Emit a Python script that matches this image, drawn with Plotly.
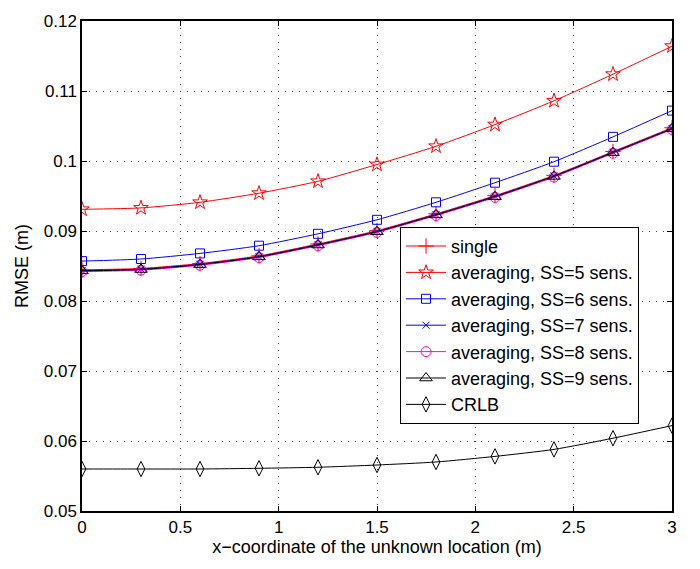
import plotly.graph_objects as go

x_vals = [0.0, 0.3, 0.6, 0.9, 1.2, 1.5, 1.8, 2.1, 2.4, 2.7, 3.0]

single = [0.08445, 0.08465, 0.08535, 0.08645, 0.08815, 0.09005, 0.09245, 0.09505, 0.09795, 0.10135, 0.10475]
ss5 = [0.0931, 0.0933, 0.0941, 0.0954, 0.0971, 0.0995, 0.1021, 0.1052, 0.1086, 0.1124, 0.1164]
ss6 = [0.0857, 0.0860, 0.0868, 0.0879, 0.0896, 0.0916, 0.0941, 0.0969, 0.0999, 0.10345, 0.1072]
ss7 = [0.08435, 0.08455, 0.08525, 0.08635, 0.08805, 0.08995, 0.09235, 0.09495, 0.09785, 0.10125, 0.10465]
ss8 = [0.0842, 0.0844, 0.0851, 0.0862, 0.0879, 0.0898, 0.0922, 0.0948, 0.0977, 0.1011, 0.1045]
ss9 = [0.0843, 0.0845, 0.0852, 0.0863, 0.0880, 0.0899, 0.0923, 0.0949, 0.0978, 0.1012, 0.1046]
crlb = [0.0560, 0.0560, 0.0560, 0.0561, 0.05625, 0.05657, 0.0570, 0.0578, 0.0588, 0.0604, 0.0622]

names = ["single", "averaging, SS=5 sens.", "averaging, SS=6 sens.", "averaging, SS=7 sens.",
         "averaging, SS=8 sens.", "averaging, SS=9 sens.", "CRLB"]
series = [single, ss5, ss6, ss7, ss8, ss9, crlb]
colors = ["#ff0000", "#ff0000", "#0000ff", "#0000ff", "#ff00ff", "#000000", "#000000"]
symbols = ["cross-thin-open", "star-open", "square-open", "x-thin-open", "circle-open",
           "triangle-up-open", "diamond-tall-open"]
sizes = [11, 11, 9, 7, 10, 11, 11]

yticks = [0.05, 0.06, 0.07, 0.08, 0.09, 0.10, 0.11, 0.12]
ytick_text = ["0.05", "0.06", "0.07", "0.08", "0.09", "0.1", "0.11", "0.12"]
xticks = [0, 0.5, 1, 1.5, 2, 2.5, 3]
xtick_text = ["0", "0.5", "1", "1.5", "2", "2.5", "3"]

fig = go.Figure()
for n, s, c, sym, sz in zip(names, series, colors, symbols, sizes):
    fig.add_trace(go.Scatter(
        x=x_vals, y=s, name=n, mode="lines+markers",
        line=dict(color=c, width=1, shape="spline", smoothing=0.6),
        marker=dict(symbol=sym, size=sz, color=c, line=dict(color=c, width=1)),
    ))

font_family = "Liberation Sans, Arial, Helvetica, sans-serif"
fig.update_layout(
    width=700, height=569,
    margin=dict(l=82, r=28, t=13, b=58),
    paper_bgcolor="white", plot_bgcolor="white",
    font=dict(family=font_family, size=17, color="black"),
    showlegend=True,
    legend=dict(
        x=0.539, y=0.580, xanchor="left", yanchor="top",
        bgcolor="white", bordercolor="black", borderwidth=1,
        font=dict(size=18, family=font_family, color="black"),
        tracegroupgap=0, itemwidth=40,
    ),
)
grid_common = dict(
    showline=True, linecolor="black", linewidth=1.5, mirror="allticks",
    ticks="inside", ticklen=5, tickcolor="black",
    showgrid=True, gridcolor="#444444", griddash="1px,6px", gridwidth=1,
    zeroline=False, tickfont=dict(size=17),
)
fig.update_xaxes(
    range=[0, 3], tickvals=xticks, ticktext=xtick_text,
    title=dict(text="x\u2212coordinate of the unknown location (m)", font=dict(size=18), standoff=4),
    **grid_common,
)
fig.update_yaxes(
    range=[0.05, 0.12], tickvals=yticks, ticktext=ytick_text,
    title=dict(text="RMSE (m)", font=dict(size=18), standoff=10),
    **grid_common,
)

fig.write_html("out.html")
